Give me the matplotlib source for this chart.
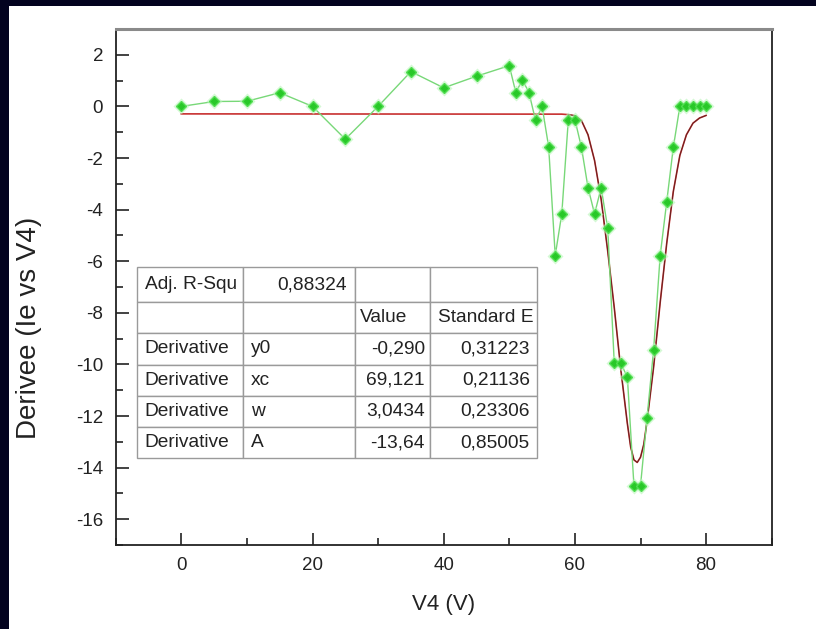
import matplotlib
matplotlib.use("Agg")
import matplotlib.pyplot as plt
from matplotlib.patches import Rectangle
from matplotlib.ticker import MultipleLocator

plt.rcParams['font.family'] = ['Liberation Sans', 'DejaVu Sans']
plt.rcParams['axes.unicode_minus'] = False

# measured derivative (green points)
v4 = [0, 5, 10, 15, 20, 25, 30, 35, 40, 45, 50, 51, 52, 53, 54, 55, 56, 57, 58,
      59, 60, 61, 62, 63, 64, 65, 66, 67, 68, 69, 70, 71, 72, 73, 74, 75, 76,
      77, 78, 79, 80]
deriv = [0, 0.19, 0.2, 0.53, 0, -1.27, 0, 1.35, 0.72, 1.17, 1.58, 0.53, 1.04,
         0.53, -0.54, 0, -1.57, -5.78, -4.17, -0.51, -0.51, -1.59, -3.15, -4.17,
         -3.15, -4.71, -9.95, -9.95, -10.5, -14.7, -14.7, -12.06, -9.43, -5.78,
         -3.69, -1.59, 0, 0, 0, 0, 0]

# gaussian fit curve
fit_x = [0, 58, 59, 60, 61, 62, 63, 64, 65, 66, 67, 68, 68.5, 69, 69.5, 70,
         70.5, 71, 72, 73, 74, 75, 76, 77, 78, 79, 80]
fit_y = [-0.29, -0.30, -0.32, -0.36, -0.55, -1.1, -2.1, -3.6, -5.6, -7.8,
         -10.2, -12.3, -13.2, -13.7, -13.8, -13.6, -13.1, -12.2, -10.1, -7.6,
         -5.3, -3.3, -1.9, -1.1, -0.65, -0.45, -0.35]

# fit results table
table_rows = [["Adj. R-Squ", "0,88324", "", ""],
              ["", "", "Value", "Standard E"],
              ["Derivative", "y0", "-0,290", "0,31223"],
              ["Derivative", "xc", "69,121", "0,21136"],
              ["Derivative", "w", "3,0434", "0,23306"],
              ["Derivative", "A", "-13,64", "0,85005"]]
col_align = ["left", "right", "right", "right"]

fig = plt.figure(figsize=(8.16, 6.29), dpi=100)
fig.patch.set_facecolor('#03031f')
fig.patches.append(Rectangle((9 / 816, 0), 1, 623 / 629, transform=fig.transFigure,
                             facecolor='white', edgecolor='none', zorder=-5))

ax = fig.add_axes([115.7 / 816, 1 - 545 / 629, 656 / 816, 516 / 629])

ax.plot(fit_x, fit_y, color='#c83030', lw=1.2, zorder=2)
ax.plot(fit_x[2:], fit_y[2:], color='#3a1a1a', lw=0.7, alpha=0.7, zorder=3)
ax.plot(v4, deriv, color='#78d878', lw=1.0, zorder=4)
ax.plot(v4, deriv, ls='none', marker='D', ms=8, color='#b8f5b8', alpha=0.6,
        markeredgecolor='none', zorder=5)
ax.plot(v4, deriv, ls='none', marker='D', ms=5, color='#28c828',
        markeredgecolor='#50dd50', zorder=6)

ax.set_xlim(-10, 90)
ax.set_ylim(-17, 3)
ax.xaxis.set_major_locator(MultipleLocator(20))
ax.xaxis.set_minor_locator(MultipleLocator(10))
ax.yaxis.set_major_locator(MultipleLocator(2))
ax.yaxis.set_minor_locator(MultipleLocator(1))
ax.tick_params(which='both', direction='in', top=False, right=False,
               labelsize=13.5, colors='#222222', width=1.2)
ax.tick_params(which='major', length=9, pad=9)
ax.tick_params(which='minor', length=5)
for s in ['left', 'bottom', 'right']:
    ax.spines[s].set_linewidth(1.3)
    ax.spines[s].set_color('#222222')
ax.spines['top'].set_color('#8a8a8a')
ax.spines['top'].set_linewidth(2.2)

ax.set_xlabel("V4 (V)", fontsize=16, color='#222222')
ax.set_ylabel("Derivee (Ie vs V4)", fontsize=20, color='#222222')
ax.xaxis.set_label_coords(0.5, -0.095)
ax.yaxis.set_label_coords(-0.112, 0.42)

tbl = ax.table(cellText=table_rows, bbox=[0.0329, 0.168, 0.6098, 0.3702],
               zorder=7)
tbl.auto_set_font_size(False)
tbl.set_fontsize(13.8)
col_w = [106, 111.7, 75, 107.3]
row_h = [34.4, 31, 31, 31, 31, 31]
for (r, c), cell in tbl.get_celld().items():
    cell.set_width(col_w[c])
    cell.set_height(row_h[r])
    cell.set_edgecolor('#9a9a9a')
    cell.set_linewidth(1.0)
    cell.PAD = 0.07
    cell.get_text().set_color('#222222')
    align = col_align[c]
    if r == 1 or (c == 1 and r >= 2):
        align = 'left'
    if r == 0 and c == 1:
        align = 'right'
    cell._loc = align
    cell.get_text().set_horizontalalignment(align)

fig.savefig("out.png", dpi=100)
